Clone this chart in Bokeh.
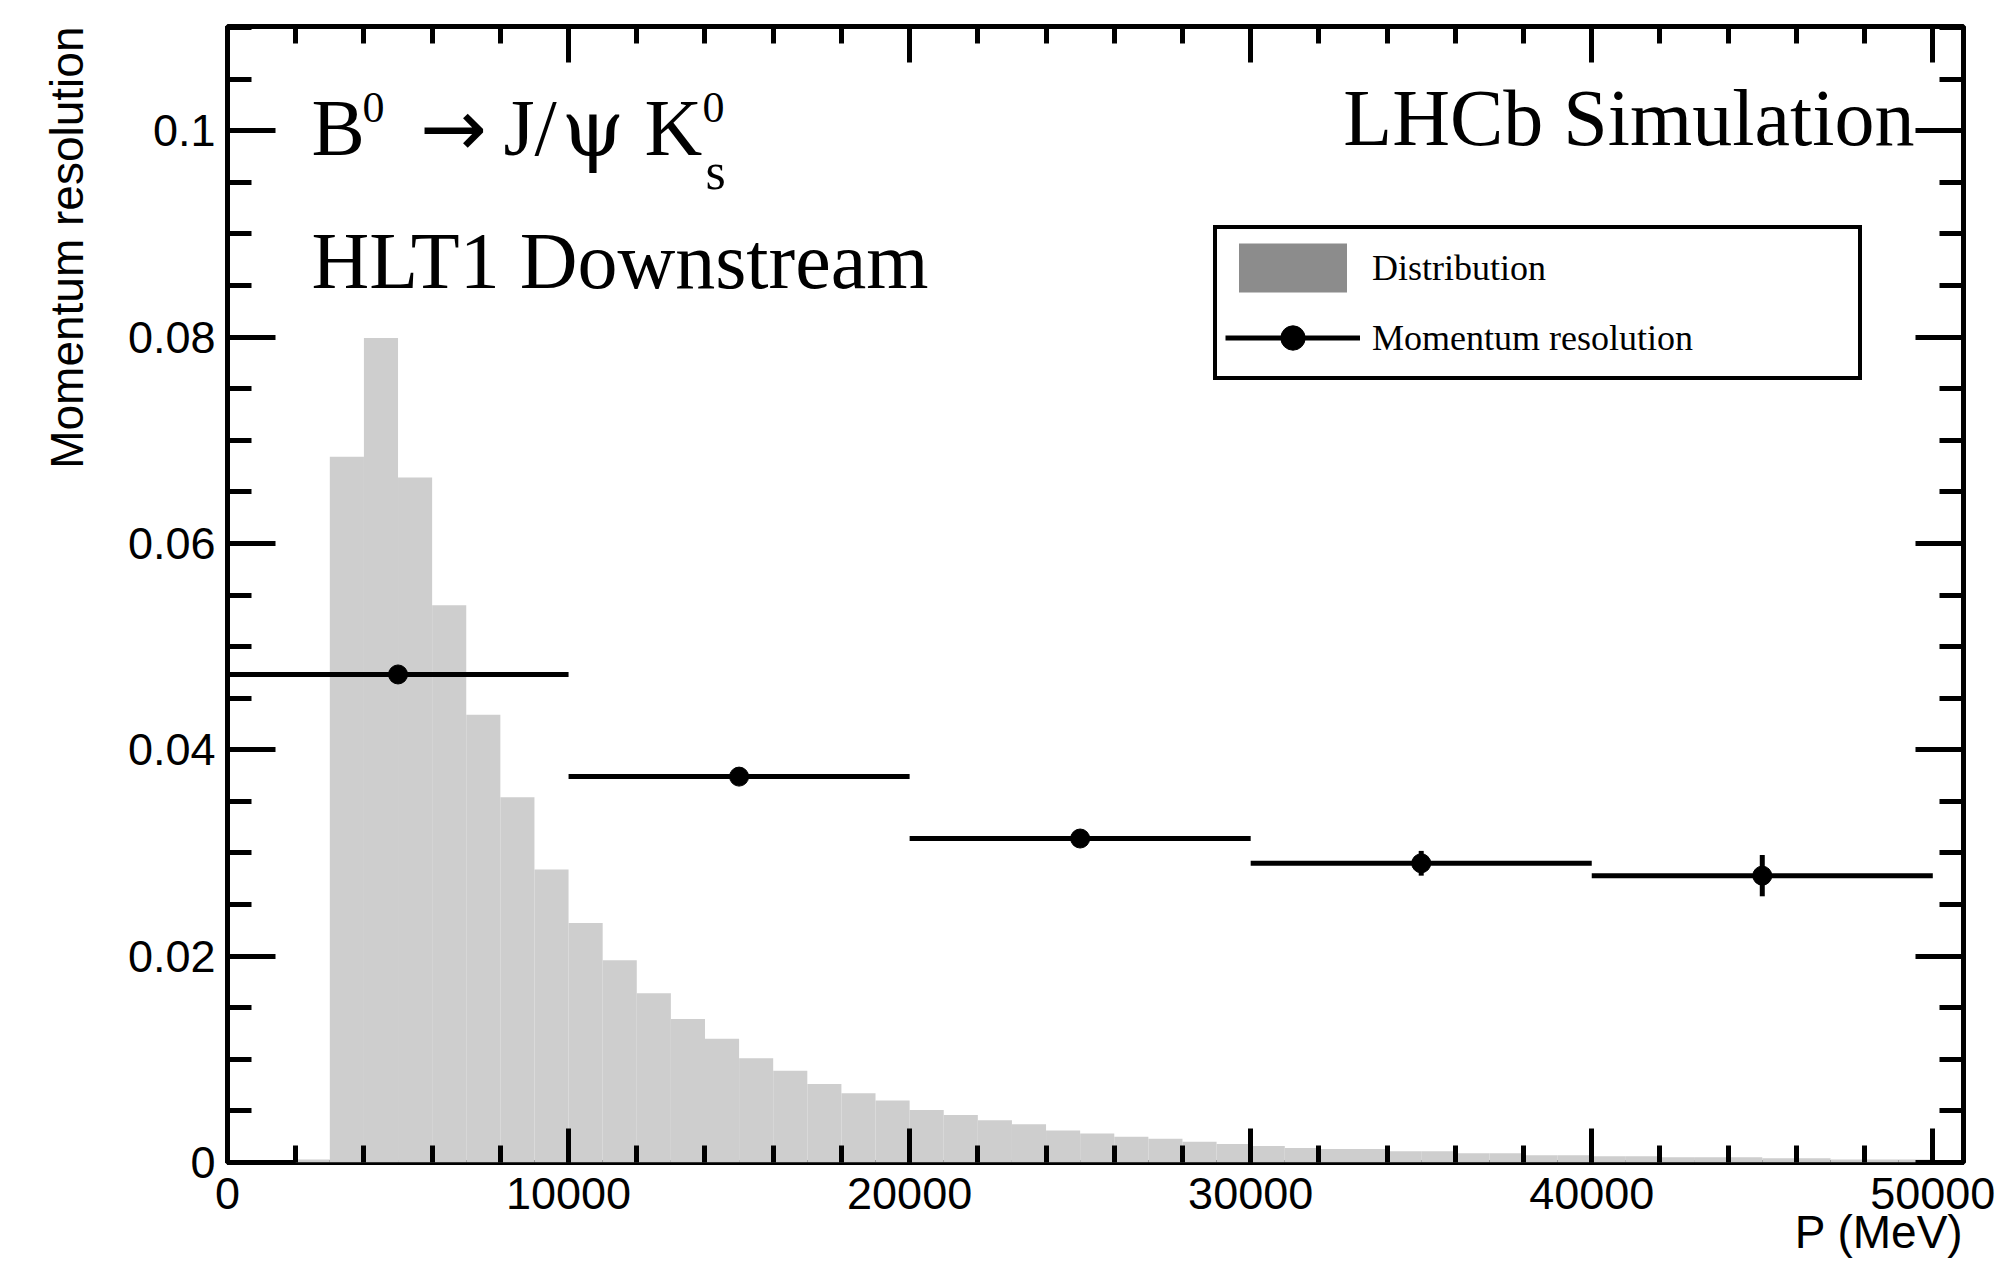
from bokeh.plotting import figure
from bokeh.models import (ColumnDataSource, Range1d, LinearAxis, SingleIntervalTicker,
                          CustomJSTickFormatter, Label, Legend, LegendItem, Title)
from bokeh.embed import file_html
from bokeh.resources import INLINE

# Track momentum distribution: 1 GeV bins (MeV edges) and fraction of tracks per bin
dist_lo = [2000, 3000, 4000, 5000, 6000, 7000, 8000, 9000, 10000, 11000, 12000, 13000,
           14000, 15000, 16000, 17000, 18000, 19000, 20000, 21000, 22000, 23000, 24000, 25000,
           26000, 27000, 28000, 29000, 30000, 31000, 32000, 33000, 34000, 35000, 36000, 37000,
           38000, 39000, 40000, 41000, 42000, 43000, 44000, 45000, 46000, 47000, 48000, 49000]
dist_hi = [3000, 4000, 5000, 6000, 7000, 8000, 9000, 10000, 11000, 12000, 13000, 14000,
           15000, 16000, 17000, 18000, 19000, 20000, 21000, 22000, 23000, 24000, 25000, 26000,
           27000, 28000, 29000, 30000, 31000, 32000, 33000, 34000, 35000, 36000, 37000, 38000,
           39000, 40000, 41000, 42000, 43000, 44000, 45000, 46000, 47000, 48000, 49000, 50000]
dist_frac = [0.0003, 0.0684, 0.0799, 0.0664, 0.0540, 0.0434, 0.0354, 0.0284, 0.0232, 0.0196,
             0.0164, 0.0139, 0.0120, 0.0101, 0.0089, 0.0076, 0.0067, 0.0060, 0.0051, 0.0046,
             0.0041, 0.0037, 0.0031, 0.0028, 0.0025, 0.0023, 0.0020, 0.0018, 0.0016, 0.0014,
             0.0013, 0.0013, 0.0011, 0.0011, 0.0009, 0.0009, 0.0007, 0.0007, 0.0006, 0.0006,
             0.0005, 0.0005, 0.0005, 0.0004, 0.0004, 0.0003, 0.0003, 0.0003]

# Momentum resolution in 10 GeV slices
res_lo = [0, 10000, 20000, 30000, 40000]
res_hi = [10000, 20000, 30000, 40000, 50000]
res_mid = [5000, 15000, 25000, 35000, 45000]
res_val = [0.0473, 0.0374, 0.0314, 0.0290, 0.0278]
res_err = [0.0004, 0.0005, 0.0007, 0.0012, 0.0020]

x_major_step = 10000
y_major_step = 0.02

dist_src = ColumnDataSource(dict(lo=dist_lo, hi=dist_hi, frac=dist_frac))
res_src = ColumnDataSource(dict(
    lo=res_lo, hi=res_hi, mid=res_mid, val=res_val,
    down=[v - e for v, e in zip(res_val, res_err)],
    up=[v + e for v, e in zip(res_val, res_err)],
))

p = figure(width=1998, height=1263, output_backend="svg", toolbar_location=None,
           x_range=Range1d(0, 50900), y_range=Range1d(0, 0.1101),
           min_border_left=227, min_border_right=35, min_border_top=26,
           min_border_bottom=101)
p.background_fill_color = "white"
p.border_fill_color = "white"
p.outline_line_color = "black"
p.outline_line_width = 5
p.xgrid.visible = False
p.ygrid.visible = False

# histogram
p.quad(left="lo", right="hi", bottom=0, top="frac", source=dist_src,
       fill_color="#cecece", line_color=None)

# legend swatch for the distribution: a renderer with no drawable rows
nan = float("nan")
dist_key = p.quad(left=[nan], right=[nan], bottom=[nan], top=[nan],
                  fill_color="#8c8c8c", line_color=None)

# resolution points with bin-width and error bars
h_bars = p.segment(x0="lo", y0="val", x1="hi", y1="val", source=res_src,
                   line_color="black", line_width=5)
p.segment(x0="mid", y0="down", x1="mid", y1="up", source=res_src,
          line_color="black", line_width=5)
dots = p.scatter(x="mid", y="val", source=res_src, marker="circle", size=19,
                 fill_color="black", line_color="black")

x_ticker = SingleIntervalTicker(interval=x_major_step, num_minor_ticks=5)
y_ticker = SingleIntervalTicker(interval=y_major_step, num_minor_ticks=4)
blank = CustomJSTickFormatter(code="return '';")


def style_axis(ax, ticker, major_in, minor_in):
    ax.ticker = ticker
    ax.axis_line_color = None
    ax.major_tick_in = major_in
    ax.major_tick_out = 0
    ax.minor_tick_in = minor_in
    ax.minor_tick_out = 0
    ax.major_tick_line_width = 5
    ax.minor_tick_line_width = 5
    ax.major_tick_line_color = "black"
    ax.minor_tick_line_color = "black"
    ax.major_label_text_font = "Liberation Sans"
    ax.major_label_text_font_size = "45px"
    ax.major_label_text_color = "black"


xb = p.xaxis[0]
style_axis(xb, x_ticker, 34, 17)
xb.formatter = CustomJSTickFormatter(code="return tick.toFixed(0);")
xb.major_label_standoff = 15

yl = p.yaxis[0]
style_axis(yl, y_ticker, 48, 24)
yl.formatter = CustomJSTickFormatter(code="return String(Math.round(tick * 1000) / 1000);")
yl.major_label_standoff = 12

xt = LinearAxis()
style_axis(xt, x_ticker, 36, 17)
xt.formatter = blank
xt.major_label_text_font_size = "0px"
xt.major_label_standoff = 0
p.add_layout(xt, "above")

yr = LinearAxis()
style_axis(yr, y_ticker, 48, 24)
yr.formatter = blank
yr.major_label_text_font_size = "0px"
yr.major_label_standoff = 0
p.add_layout(yr, "right")

sans = "Liberation Sans"
serif = "Liberation Serif"

# axis titles, flush with the far ends of the axes
p.add_layout(Title(text="Momentum resolution", align="right", text_font=sans,
                   text_font_size="46px", text_font_style="normal", text_color="black",
                   standoff=63), "left")
p.add_layout(Title(text="P (MeV)", align="right", text_font=sans,
                   text_font_size="46px", text_font_style="normal", text_color="black",
                   standoff=-16), "below")


def put(x, y, text, size, font=serif, align="left"):
    p.add_layout(Label(x=x, y=y, text=text, text_font=font, text_font_size=size,
                       text_align=align, text_baseline="alphabetic", text_color="black"))


# decay channel, with super/subscripts set as separate pieces
put(2463, 0.10022, "B", "80px")
put(3958, 0.10225, "0", "44px")
put(6626, 0.10022, "\u2192", "80px", font="DejaVu Sans", align="center")
put(8092, 0.10022, "J/", "80px")
put(9790, 0.10022, "\u03c8", "80px", font="DejaVu Serif")
put(12226, 0.10022, "K", "80px")
put(13927, 0.10225, "0", "44px")
put(14015, 0.09605, "s", "52px")
put(2463, 0.08733, "HLT1 Downstream", "80px")
put(49463, 0.10128, "LHCb Simulation", "80px", align="right")

legend = Legend(items=[
    LegendItem(label="Distribution", renderers=[dist_key]),
    LegendItem(label="Momentum resolution", renderers=[h_bars, dots]),
], location=(986, 782))
legend.margin = 0
legend.padding = 8
legend.spacing = 9
legend.glyph_width = 135
legend.glyph_height = 61
legend.label_height = 61
legend.label_width = 478
legend.label_standoff = 12
legend.label_text_font = serif
legend.label_text_font_size = "36px"
legend.label_text_color = "black"
legend.border_line_color = "black"
legend.border_line_alpha = 1.0
legend.border_line_width = 4
legend.background_fill_color = "white"
legend.background_fill_alpha = 1.0
p.add_layout(legend)

open("out.html", "w").write(file_html(p, INLINE))
